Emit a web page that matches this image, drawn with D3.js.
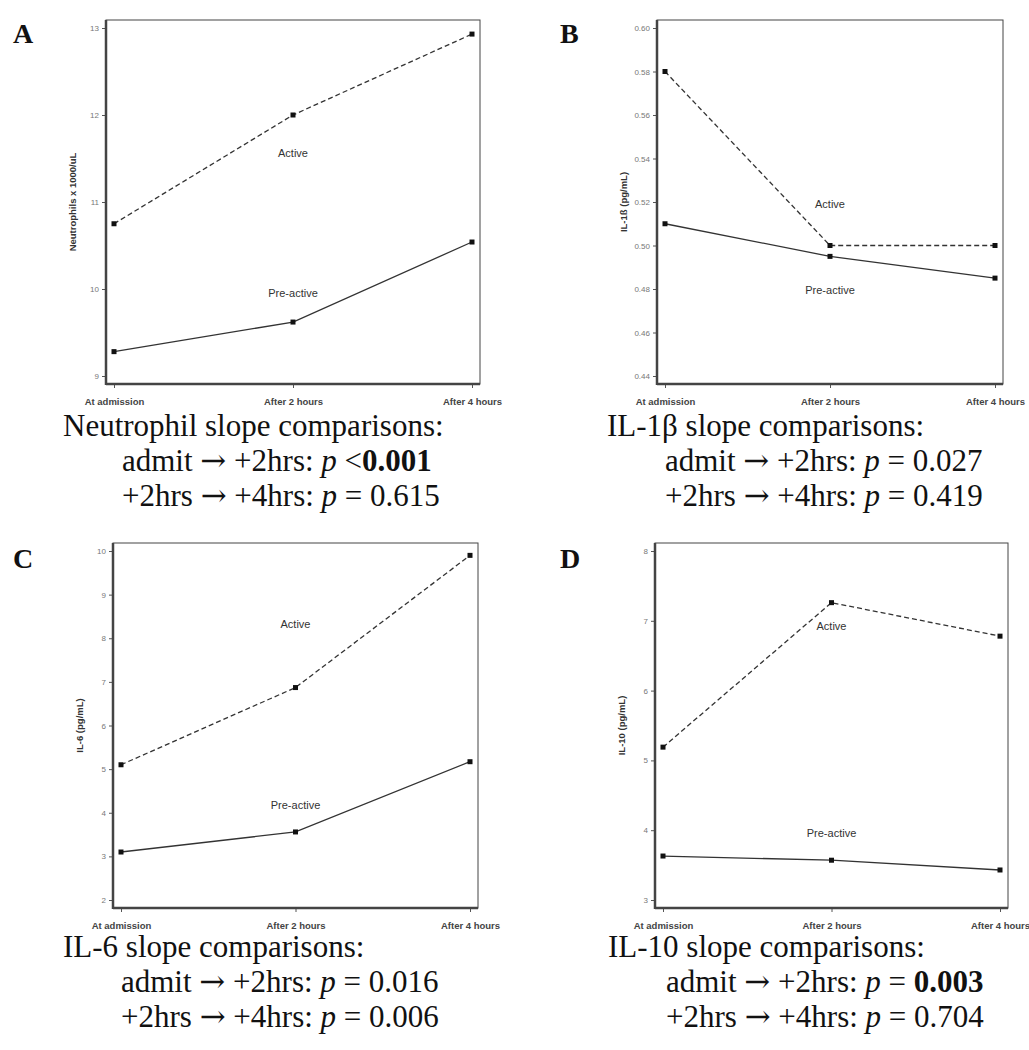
<!DOCTYPE html>
<html>
<head>
<meta charset="utf-8">
<script src="https://cdn.jsdelivr.net/npm/d3@7"></script>
<style>
  body { margin: 0; background: #fff; }
  svg { display: block; }
</style>
</head>
<body>
<script>
// time points shared by every panel
const times = ['At admission', 'After 2 hours', 'After 4 hours']

// A: neutrophils (x 1000/uL)
const neutActive = [10.75, 12.0, 12.93]
const neutPre = [9.28, 9.62, 10.54]
const neutTicks = [9, 10, 11, 12, 13]

// B: IL-1b (pg/mL)
const il1bActive = [0.58, 0.50, 0.50]
const il1bPre = [0.51, 0.495, 0.485]
const il1bTicks = [0.44, 0.46, 0.48, 0.50, 0.52, 0.54, 0.56, 0.58, 0.60]

// C: IL-6 (pg/mL)
const il6Active = [5.1, 6.87, 9.9]
const il6Pre = [3.1, 3.56, 5.17]
const il6Ticks = [2, 3, 4, 5, 6, 7, 8, 9, 10]

// D: IL-10 (pg/mL)
const il10Active = [5.19, 7.26, 6.78]
const il10Pre = [3.63, 3.57, 3.43]
const il10Ticks = [3, 4, 5, 6, 7, 8]

// where the group names sit (value on y axis)
const groupLabelY = {
  A: [11.56, 9.95],
  B: [0.519, 0.4795],
  C: [8.32, 4.18],
  D: [6.92, 3.96]
}

const W = 1029, H = 1050
const serif = 'Liberation Serif, Times New Roman, serif'
const sans = 'Liberation Sans, Arial, sans-serif'

const svg = d3.select('body').append('svg')
  .attr('width', W)
  .attr('height', H)

const panels = [
  {
    key: 'A', x0: 106, x1: 480, y0: 20, y1: 384, lx: 13, ly: 43,
    yLabel: 'Neutrophils x 1000/uL', active: neutActive, pre: neutPre,
    ticks: neutTicks, fmt: d3.format('d'),
    cap: { x: 63, x2: 122, y: 436 },
    lines: [
      [{ t: 'Neutrophil slope comparisons:' }],
      [{ t: 'admit ' }, { t: '\u2192', a: true }, { t: ' +2hrs: ' }, { t: 'p', i: true }, { t: ' <' }, { t: '0.001', b: true }],
      [{ t: '+2hrs ' }, { t: '\u2192', a: true }, { t: ' +4hrs: ' }, { t: 'p', i: true }, { t: ' = 0.615' }]
    ]
  },
  {
    key: 'B', x0: 657, x1: 1003, y0: 20, y1: 384, lx: 560, ly: 43,
    yLabel: 'IL-1\u00df (pg/mL)', active: il1bActive, pre: il1bPre,
    ticks: il1bTicks, fmt: d3.format('.2f'),
    cap: { x: 607, x2: 665, y: 436 },
    lines: [
      [{ t: 'IL-1\u03b2 slope comparisons:' }],
      [{ t: 'admit ' }, { t: '\u2192', a: true }, { t: ' +2hrs: ' }, { t: 'p', i: true }, { t: ' = 0.027' }],
      [{ t: '+2hrs ' }, { t: '\u2192', a: true }, { t: ' +4hrs: ' }, { t: 'p', i: true }, { t: ' = 0.419' }]
    ]
  },
  {
    key: 'C', x0: 113, x1: 478, y0: 543, y1: 908, lx: 13, ly: 568,
    yLabel: 'IL-6 (pg/mL)', active: il6Active, pre: il6Pre,
    ticks: il6Ticks, fmt: d3.format('d'),
    cap: { x: 63, x2: 121, y: 957 },
    lines: [
      [{ t: 'IL-6 slope comparisons:' }],
      [{ t: 'admit ' }, { t: '\u2192', a: true }, { t: ' +2hrs: ' }, { t: 'p', i: true }, { t: ' = 0.016' }],
      [{ t: '+2hrs ' }, { t: '\u2192', a: true }, { t: ' +4hrs: ' }, { t: 'p', i: true }, { t: ' = 0.006' }]
    ]
  },
  {
    key: 'D', x0: 655, x1: 1008, y0: 543, y1: 908, lx: 560, ly: 568,
    yLabel: 'IL-10 (pg/mL)', active: il10Active, pre: il10Pre,
    ticks: il10Ticks, fmt: d3.format('d'),
    cap: { x: 608, x2: 666, y: 957 },
    lines: [
      [{ t: 'IL-10 slope comparisons:' }],
      [{ t: 'admit ' }, { t: '\u2192', a: true }, { t: ' +2hrs: ' }, { t: 'p', i: true }, { t: ' = ' }, { t: '0.003', b: true }],
      [{ t: '+2hrs ' }, { t: '\u2192', a: true }, { t: ' +4hrs: ' }, { t: 'p', i: true }, { t: ' = 0.704' }]
    ]
  }
]

panels.forEach(p => {
  const g = svg.append('g')

  const x = d3.scalePoint().domain(times).range([p.x0 + 8, p.x1 - 8])
  const y = d3.scaleLinear()
    .domain(d3.extent(p.ticks))
    .range([p.y1 - 8, p.y0 + 8])

  // panel letter
  g.append('text')
    .attr('x', p.lx)
    .attr('y', p.ly)
    .attr('font-family', serif)
    .attr('font-weight', 'bold')
    .attr('font-size', 28)
    .attr('fill', '#111')
    .text(p.key)

  // frame
  g.append('rect')
    .attr('x', p.x0).attr('y', p.y0)
    .attr('width', p.x1 - p.x0).attr('height', p.y1 - p.y0)
    .attr('fill', 'none')
    .attr('stroke', '#444')
    .attr('stroke-width', 1)

  // y axis
  const yAxis = d3.axisLeft(y).tickValues(p.ticks).tickFormat(p.fmt).tickSize(4).tickPadding(3)
  const ya = g.append('g')
    .attr('transform', `translate(${p.x0},0)`)
    .call(yAxis)
  ya.select('.domain').remove()
  ya.selectAll('line').attr('stroke', '#555')
  ya.selectAll('text')
    .attr('font-family', sans)
    .attr('font-size', 8)
    .attr('fill', '#777')

  // x axis (ticks below the frame)
  const xAxis = d3.axisBottom(x).tickSize(4).tickPadding(10)
  const xa = g.append('g')
    .attr('transform', `translate(0,${p.y1})`)
    .call(xAxis)
  xa.select('.domain').remove()
  xa.selectAll('line').attr('stroke', '#555')
  xa.selectAll('text')
    .attr('font-family', sans)
    .attr('font-weight', 'bold')
    .attr('font-size', 9.5)
    .attr('fill', '#444')

  // heavy left / bottom axis lines
  g.append('line')
    .attr('x1', p.x0).attr('x2', p.x0)
    .attr('y1', p.y0).attr('y2', p.y1 + 1)
    .attr('stroke', '#444').attr('stroke-width', 2.5)
  g.append('line')
    .attr('x1', p.x0).attr('x2', p.x1)
    .attr('y1', p.y1).attr('y2', p.y1)
    .attr('stroke', '#444').attr('stroke-width', 2.5)

  // y axis title
  g.append('text')
    .attr('transform', `translate(${p.x0 - 30},${(p.y0 + p.y1) / 2}) rotate(-90)`)
    .attr('text-anchor', 'middle')
    .attr('font-family', sans)
    .attr('font-weight', 'bold')
    .attr('font-size', 9.5)
    .attr('fill', '#333')
    .text(p.yLabel)

  // series lines
  const line = d3.line()
    .x((d, i) => x(times[i]))
    .y(d => y(d))

  g.append('path')
    .datum(p.active)
    .attr('d', line)
    .attr('fill', 'none')
    .attr('stroke', '#333')
    .attr('stroke-width', 1.3)
    .attr('stroke-dasharray', '5,3')

  g.append('path')
    .datum(p.pre)
    .attr('d', line)
    .attr('fill', 'none')
    .attr('stroke', '#333')
    .attr('stroke-width', 1.3)

  // square markers
  const pts = p.active.concat(p.pre).map((v, i) => ({ v, t: times[i % 3] }))
  g.selectAll('rect.pt')
    .data(pts)
    .enter()
    .append('rect')
    .attr('class', 'pt')
    .attr('x', d => x(d.t) - 2.5)
    .attr('y', d => y(d.v) - 2.5)
    .attr('width', 5)
    .attr('height', 5)
    .attr('fill', '#111')

  // group names
  const names = ['Active', 'Pre-active']
  g.selectAll('text.grp')
    .data(groupLabelY[p.key])
    .enter()
    .append('text')
    .attr('class', 'grp')
    .attr('x', x(times[1]))
    .attr('y', d => y(d))
    .attr('dy', '0.35em')
    .attr('text-anchor', 'middle')
    .attr('font-family', sans)
    .attr('font-size', 11)
    .attr('fill', '#333')
    .text((d, i) => names[i])

  // caption under the panel
  p.lines.forEach((parts, li) => {
    const t = g.append('text')
      .attr('x', li === 0 ? p.cap.x : p.cap.x2)
      .attr('y', p.cap.y + li * 35)
      .attr('font-family', serif)
      .attr('font-size', 31)
      .attr('fill', '#111')
    parts.forEach(s => {
      t.append('tspan')
        .attr('font-family', s.a ? 'DejaVu Serif, serif' : null)
        .attr('font-style', s.i ? 'italic' : null)
        .attr('font-weight', s.b ? 'bold' : null)
        .text(s.t)
    })
  })
})
</script>
</body>
</html>
